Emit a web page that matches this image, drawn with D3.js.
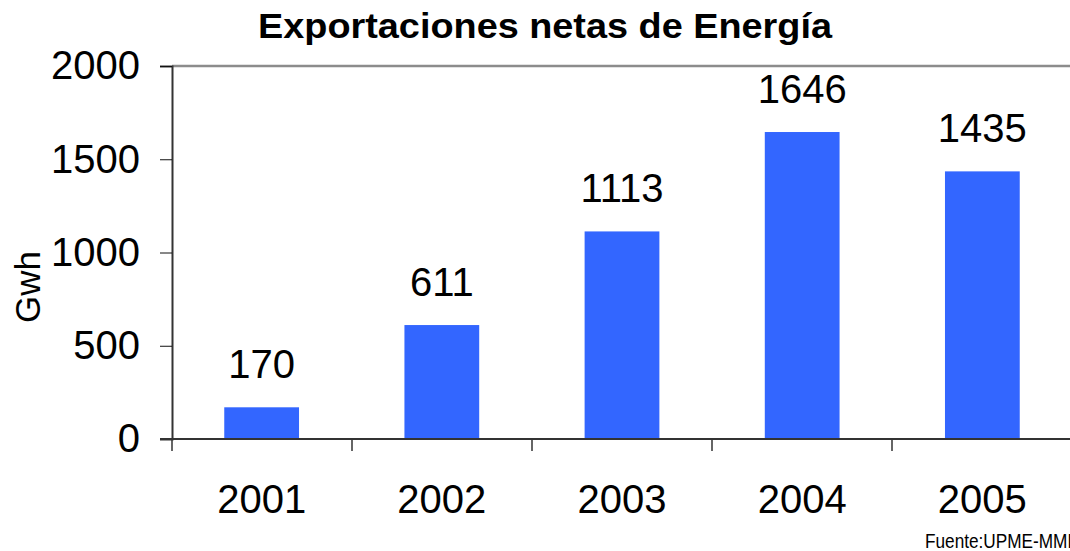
<!DOCTYPE html>
<html>
<head>
<meta charset="utf-8">
<script src="https://cdn.jsdelivr.net/npm/d3@7"></script>
<style>
  html, body { margin: 0; padding: 0; background: #fff; }
  svg { display: block; font-family: 'Liberation Sans', Arial, sans-serif; }
</style>
</head>
<body>
<svg id="chart"></svg>
<script>
const years = ['2001', '2002', '2003', '2004', '2005'];
const values = [170, 611, 1113, 1646, 1435];
const yTicks = [0, 500, 1000, 1500, 2000];

const width = 1070;
const height = 551;
const plotLeft = 172;
const plotRight = 1072;
const plotTop = 66;
const plotBottom = 439;

const svg = d3.select('#chart')
  .attr('width', width)
  .attr('height', height);

const x = d3.scaleBand()
  .domain(years)
  .range([plotLeft, plotRight])
  .paddingInner(0.585)
  .paddingOuter(0.29);

const y = d3.scaleLinear()
  .domain([0, 2000])
  .range([plotBottom, plotTop]);

// top grid line at 2000
svg.append('line')
  .attr('x1', plotLeft).attr('x2', width)
  .attr('y1', y(2000)).attr('y2', y(2000))
  .attr('stroke', '#8c8c8c')
  .attr('stroke-width', 2.5);

// bars
svg.selectAll('rect.bar')
  .data(values)
  .enter()
  .append('rect')
  .attr('class', 'bar')
  .attr('x', (d, i) => x(years[i]))
  .attr('y', d => y(d))
  .attr('width', x.bandwidth())
  .attr('height', d => y(0) - y(d))
  .attr('fill', '#3366ff');

// value labels
svg.selectAll('text.val')
  .data(values)
  .enter()
  .append('text')
  .attr('class', 'val')
  .attr('x', (d, i) => x(years[i]) + x.bandwidth() / 2)
  .attr('y', d => y(d) - 29)
  .attr('text-anchor', 'middle')
  .attr('font-size', 40)
  .text(d => d);

// y axis
const yAxis = d3.axisLeft(y)
  .tickValues(yTicks)
  .tickSize(12)
  .tickPadding(20)
  .tickFormat(d3.format('d'));

const gy = svg.append('g')
  .attr('transform', `translate(${plotLeft},0)`)
  .call(yAxis);
gy.select('.domain').attr('stroke', '#333').attr('stroke-width', 2);
gy.selectAll('.tick line').attr('stroke', '#111');
gy.selectAll('.tick text')
  .attr('font-size', 40)
  .attr('fill', '#000')
  .attr('font-family', "'Liberation Sans', Arial, sans-serif");

// x axis
const xBound = d3.scaleLinear().domain([0, years.length]).range([plotLeft, plotRight]);
svg.append('line')
  .attr('x1', 160).attr('x2', width)
  .attr('y1', plotBottom).attr('y2', plotBottom)
  .attr('stroke', '#333')
  .attr('stroke-width', 2);

svg.selectAll('line.xtick')
  .data(d3.range(years.length + 1))
  .enter()
  .append('line')
  .attr('class', 'xtick')
  .attr('x1', d => xBound(d)).attr('x2', d => xBound(d))
  .attr('y1', plotBottom).attr('y2', plotBottom + 12)
  .attr('stroke', '#333')
  .attr('stroke-width', 1.5);

svg.selectAll('text.xlab')
  .data(years)
  .enter()
  .append('text')
  .attr('class', 'xlab')
  .attr('x', d => x(d) + x.bandwidth() / 2)
  .attr('y', 513)
  .attr('text-anchor', 'middle')
  .attr('font-size', 40)
  .text(d => d);

// y axis title
svg.append('text')
  .attr('transform', 'translate(40,287) rotate(-90)')
  .attr('text-anchor', 'middle')
  .attr('font-size', 35)
  .text('Gwh');

// title
svg.append('text')
  .attr('x', 258)
  .attr('y', 38)
  .attr('font-size', 35)
  .attr('font-weight', 'bold')
  .attr('textLength', 574)
  .attr('lengthAdjust', 'spacingAndGlyphs')
  .text('Exportaciones netas de Energía');

// source note
svg.append('text')
  .attr('transform', 'translate(925,548) scale(0.82,1)')
  .attr('font-size', 21)
  .text('Fuente:UPME-MME');
</script>
</body>
</html>
